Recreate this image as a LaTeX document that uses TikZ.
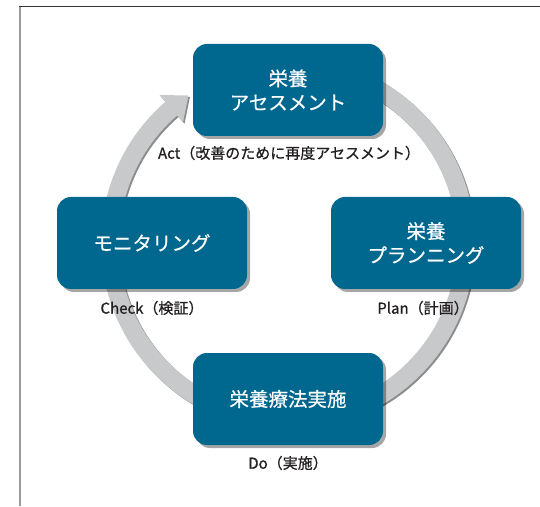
\documentclass[tikz,border=0pt]{standalone}
\usepackage{fontspec}
\setmainfont{Noto Sans CJK JP}
\newfontfamily\labfont[FakeBold=0.9]{Noto Sans CJK JP}
\newfontfamily\boxfont[FakeBold=0.4]{Noto Sans CJK JP}
\usetikzlibrary{shadows}
\definecolor{boxblue}{RGB}{0,104,143}
\definecolor{bandgray}{RGB}{200,201,203}
\definecolor{bandedge}{RGB}{140,140,142}
\definecolor{labeltext}{RGB}{35,31,32}
\begin{document}
\begin{tikzpicture}[x=1pt,y=1pt,
  stagebox/.style={draw=none, fill=boxblue, rounded corners=14pt,
    minimum width=190pt, minimum height=92pt, text=white, align=center,
    font=\boxfont\fontsize{19.5}{24}\selectfont,
    drop shadow={shadow xshift=3pt, shadow yshift=-3pt, fill=black, opacity=0.35}},
  phaselabel/.style={text=labeltext, font=\labfont\fontsize{15}{18}\selectfont, inner sep=0pt}
]
\useasboundingbox (0,0) rectangle (540,506);
% frame
\coordinate (ftl) at (20,499);
\coordinate (ftr) at (540,499);
\coordinate (fbl) at (20,0);
\draw[line width=1pt, color=black!80] (19,499) -- (ftr);
\draw[line width=1.6pt, color=black!40] (ftl) -- (fbl);
% cycle arrow (band)
\begin{scope}[shift={(289.5,261.5)}]
  \fill[bandedge] (95:187pt) arc[start angle=95, end angle=-229, radius=187pt]
     -- (-229:196pt) -- (-236:178pt) -- (-229:160pt) -- (-229:169pt)
     arc[start angle=-229, end angle=95, radius=169pt] -- cycle;
\end{scope}
\begin{scope}[shift={(288,263)}]
  \fill[bandgray] (95:187pt) arc[start angle=95, end angle=-229, radius=187pt]
     -- (-229:196pt) -- (-236:178pt) -- (-229:160pt) -- (-229:169pt)
     arc[start angle=-229, end angle=95, radius=169pt] -- cycle;
\end{scope}
% boxes
\node[stagebox] (assess) at (288,416) {栄養\\アセスメント};
\node[stagebox] (plan) at (426,263) {栄養\\プランニング};
\node[stagebox] (do) at (288,107) {栄養療法実施};
\node[stagebox] (check) at (152,263) {モニタリング};
% labels
\node[phaselabel] (actlab) at (289,353) {Act（改善のために再度アセスメント）};
\node[phaselabel] (planlab) at (423,198) {Plan（計画）};
\node[phaselabel] (dolab) at (288,43) {Do（実施）};
\node[phaselabel] (checklab) at (152,198) {Check（検証）};
\end{tikzpicture}
\end{document}
